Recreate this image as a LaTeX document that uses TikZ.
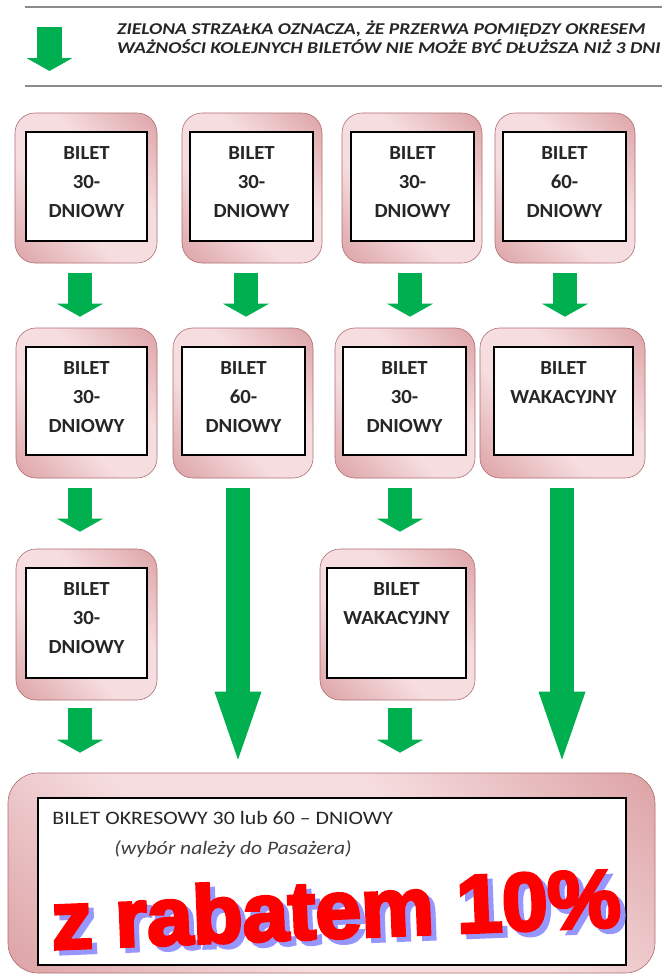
\documentclass[tikz,border=0pt]{standalone}
\usepackage{fontspec}
\setmainfont{Carlito}
\newfontfamily\grubyfont[FakeBold=4]{Liberation Sans Bold}
\usetikzlibrary{calc,arrows.meta}
\definecolor{zielony}{RGB}{0,176,80}
\definecolor{rozciemny}{RGB}{206,128,132}
\definecolor{rozjasny}{RGB}{246,222,224}
\definecolor{cien}{RGB}{150,150,255}
\pgfdeclarehorizontalshading{rozowy}{100bp}{color(0bp)=(rozciemny); color(40bp)=(rozjasny); color(60bp)=(rozjasny); color(100bp)=(rozciemny)}
\newcommand{\rabat}{\makebox[0pt][l]{\hspace{5pt}\raisebox{-5pt}{\color{cien}z rabatem 10\%}}z rabatem 10\%}
\tikzset{bilet/.style = {rectangle, rounded corners=20pt, shading=rozowy, shading angle=45, draw=rozciemny!85!black, line width=0.6pt},
         karta/.style = {rectangle, fill=white, draw=black, line width=1.3pt},
         napis/.style = {anchor=north, align=center, inner sep=0pt, font=\bfseries\fontsize{20}{29}\selectfont, text=black!85, xscale=1.04},
         strzalka/.style = {draw=zielony, line width=24pt, -{Triangle[length=13pt, width=46pt, line width=0pt]}},
         dluga/.style = {draw=zielony, line width=24pt, -{Triangle[length=68pt, width=47pt, line width=0pt]}},
         szara/.style = {draw=black!45, line width=1.5pt},
         legenda/.style = {anchor=base west, inner sep=0pt, xscale=1.19, font=\bfseries\itshape\fontsize{16.5}{19}\selectfont, text=black!85}}

\begin{document}
\begin{tikzpicture}[x=1pt,y=-1pt]
\useasboundingbox (0,0) rectangle (662,975);
\clip (0,0) rectangle (662,975);
\draw [szara] (25,7) -- (662,7);
\draw [szara] (25,86) -- (662,86);
\coordinate (l1) at (49.5,27);
\coordinate (l2) at (49.5,71);
\draw [strzalka, line width=25pt] (l1) -- (l2);
\node [legenda] (leg1) at (117,34) {ZIELONA STRZAŁKA OZNACZA, ŻE PRZERWA POMIĘDZY OKRESEM};
\node [legenda] (leg2) at (117,53) {WAŻNOŚCI KOLEJNYCH BILETÓW NIE MOŻE BYĆ DŁUŻSZA NIŻ 3 DNI};

\node [bilet, minimum width=142, minimum height=150] (b11) at (86,188) {};
\node [bilet, minimum width=140, minimum height=150] (b12) at (252,188) {};
\node [bilet, minimum width=140, minimum height=150] (b13) at (412,188) {};
\node [bilet, minimum width=140, minimum height=150] (b14) at (565,188) {};
\node [karta, minimum width=121, minimum height=109] (i11) at (86.5,186.5) {};
\node [karta, minimum width=123, minimum height=109] (i12) at (251.5,186.5) {};
\node [karta, minimum width=123, minimum height=109] (i13) at (412.5,186.5) {};
\node [karta, minimum width=123, minimum height=109] (i14) at (564.5,186.5) {};
\node [napis] at ($(i11.north)+(0,15)$) {BILET\\30-\\DNIOWY};
\node [napis] at ($(i12.north)+(0,15)$) {BILET\\30-\\DNIOWY};
\node [napis] at ($(i13.north)+(0,15)$) {BILET\\30-\\DNIOWY};
\node [napis] at ($(i14.north)+(0,15)$) {BILET\\60-\\DNIOWY};

\node [bilet, minimum width=141, minimum height=150] (b21) at (86.5,403) {};
\node [bilet, minimum width=140, minimum height=150] (b22) at (243,403) {};
\node [bilet, minimum width=140, minimum height=150] (b23) at (405,403) {};
\node [bilet, minimum width=165, minimum height=150] (b24) at (562.5,403) {};
\node [karta, minimum width=121, minimum height=108] (i21) at (86.5,401) {};
\node [karta, minimum width=123, minimum height=108] (i22) at (243.5,401) {};
\node [karta, minimum width=123, minimum height=108] (i23) at (404.5,401) {};
\node [karta, minimum width=139, minimum height=108] (i24) at (563.5,401) {};
\node [napis] at ($(i21.north)+(0,15)$) {BILET\\30-\\DNIOWY};
\node [napis] at ($(i22.north)+(0,15)$) {BILET\\60-\\DNIOWY};
\node [napis] at ($(i23.north)+(0,15)$) {BILET\\30-\\DNIOWY};
\node [napis] at ($(i24.north)+(0,15)$) {BILET\\WAKACYJNY};

\node [bilet, minimum width=141, minimum height=151] (b31) at (86.5,624.5) {};
\node [bilet, minimum width=155, minimum height=151] (b33) at (397.5,624.5) {};
\node [karta, minimum width=121, minimum height=110] (i31) at (86.5,623) {};
\node [karta, minimum width=139, minimum height=110] (i33) at (396.5,623) {};
\node [napis] at ($(i31.north)+(0,15)$) {BILET\\30-\\DNIOWY};
\node [napis] at ($(i33.north)+(0,15)$) {BILET\\WAKACYJNY};

\node [bilet, rounded corners=30pt, minimum width=647, minimum height=200] (bk) at (331.5,873) {};
\node [karta, line width=1.5pt, minimum width=588, minimum height=167] (ik) at (332,881.5) {};
\node [anchor=base west, inner sep=0pt, xscale=1.15, font=\fontsize{19}{22}\selectfont, text=black!85] (t1) at ($(ik.north west)+(15,27)$) {BILET OKRESOWY 30 lub 60 – DNIOWY};
\node [anchor=base west, inner sep=0pt, xscale=1.13, font=\itshape\fontsize{19}{22}\selectfont, text=black!75] (t2) at ($(ik.north west)+(77,57)$) {(wybór należy do Pasażera)};
\node [anchor=base west, inner sep=0pt, rotate=2.3, font=\grubyfont\fontsize{82}{90}\selectfont, text=red] (r1) at ($(ik.north west)+(15,152)$) {\rabat};

\draw [strzalka] ($(b11.south)+(-6,10)$) -- ($(b21.north)+(-6.5,-11)$);
\draw [strzalka] ($(b12.south)+(-6,10)$) -- ($(b22.north)+(3,-11)$);
\draw [strzalka] ($(b13.south)+(-2,10)$) -- ($(b23.north)+(5,-11)$);
\draw [strzalka] ($(b14.south)+(0,10)$) -- ($(b24.north)+(2.5,-11)$);
\draw [strzalka] ($(b21.south)+(-6.5,10)$) -- ($(b31.north)+(-6.5,-17)$);
\draw [strzalka] ($(b23.south)+(-5,10)$) -- ($(b33.north)+(2.5,-17)$);
\draw [strzalka] ($(b31.south)+(-6.5,8)$) -- ($(bk.north -| b31.south)+(-6.5,-20)$);
\draw [strzalka] ($(b33.south)+(2.5,8)$) -- ($(bk.north -| b33.south)+(2.5,-20)$);
\draw [dluga] ($(b22.south)+(-5,10)$) -- ($(bk.north -| b22.south)+(-5,-13)$);
\draw [dluga] ($(b24.south)+(-0.5,10)$) -- ($(bk.north -| b24.south)+(-0.5,-13)$);
\end{tikzpicture}
\end{document}
